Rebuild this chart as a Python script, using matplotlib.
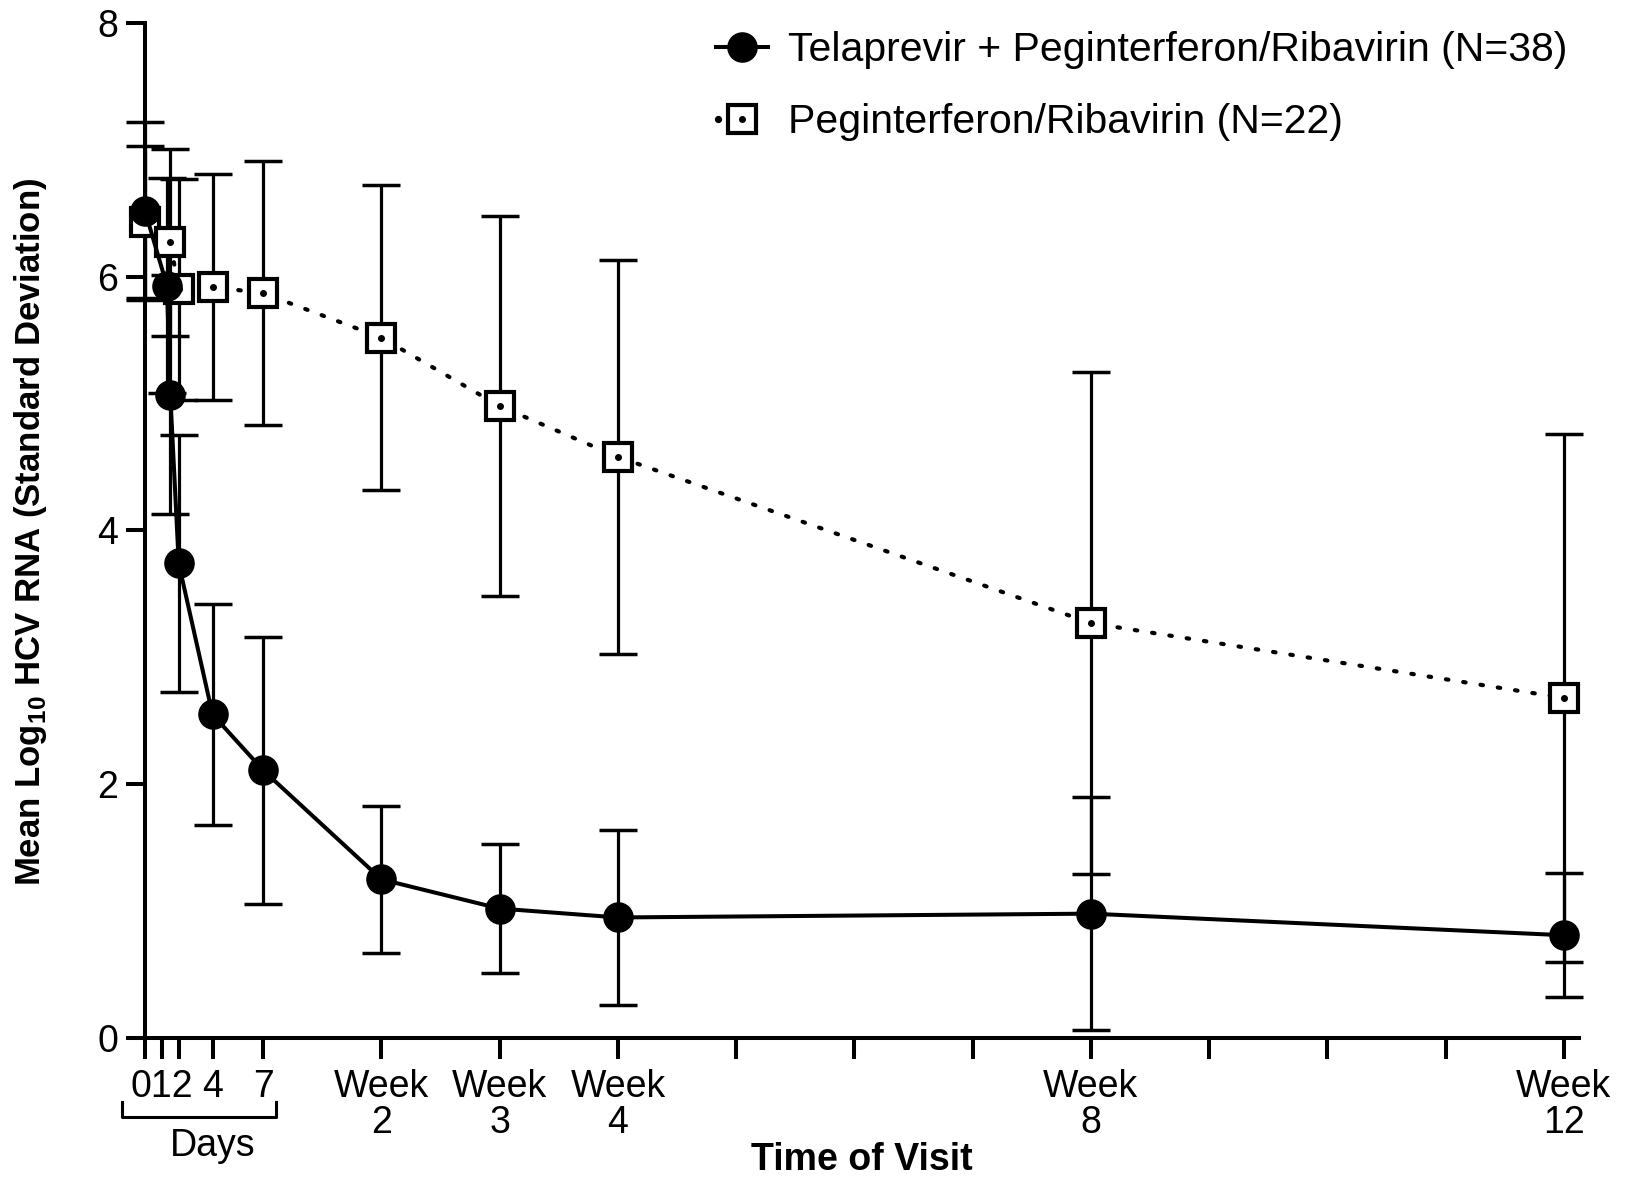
import numpy as np
import matplotlib
matplotlib.use('Agg')
import matplotlib.pyplot as plt
from matplotlib.lines import Line2D
from matplotlib.legend_handler import HandlerBase
import matplotlib.transforms as mtransforms

plt.rcParams['font.family'] = ['Liberation Sans', 'DejaVu Sans']
plt.rcParams['mathtext.fontset'] = 'custom'
plt.rcParams['mathtext.rm'] = 'Liberation Sans'
plt.rcParams['mathtext.bf'] = 'Liberation Sans:bold'

# visit day, mean log10 HCV RNA, standard deviation
tel_days = [0, 1.3, 1.5, 2, 4, 7, 14, 21, 28, 56, 84]
tel_mean = [6.52, 5.93, 5.07, 3.74, 2.55, 2.11, 1.25, 1.02, 0.95, 0.98, 0.81]
tel_sd = [0.70, 0.85, 0.94, 1.01, 0.87, 1.05, 0.58, 0.51, 0.69, 0.92, 0.49]

peg_days = [0, 1.5, 2, 4, 7, 14, 21, 28, 56, 84]
peg_mean = [6.43, 6.27, 5.90, 5.92, 5.87, 5.52, 4.98, 4.58, 3.27, 2.68]
peg_sd = [0.60, 0.74, 0.87, 0.89, 1.04, 1.20, 1.50, 1.55, 1.98, 2.08]

tick_days = [0, 1, 2, 4, 7, 14, 21, 28, 35, 42, 49, 56, 63, 70, 77, 84]
# days 0, 1 and 2 sit so close that their labels run together as "012"
tick_labels = ['', '012', '', '4', '7', 'Week\n2', 'Week\n3', 'Week\n4', '', '', '',
               'Week\n8', '', '', '', 'Week\n12']

tel_label = 'Telaprevir + Peginterferon/Ribavirin (N=38)'
peg_label = 'Peginterferon/Ribavirin (N=22)'

fs = 27
lw = 2.9
dots = (0, (0.6, 3.6))


class HandlerPeg(HandlerBase):
    # one dot of the dotted line, then the open square with its centre dot
    def create_artists(self, legend, orig_handle, xdescent, ydescent,
                       width, height, fontsize, trans):
        y = height / 2 - ydescent
        x0 = -xdescent
        xc = x0 + width / 2
        d = Line2D([x0 + 2], [y], ls='none', marker='o', ms=4.2, color='black',
                   transform=trans)
        sq = Line2D([xc], [y], ls='none', marker='s', ms=20, mfc='white',
                    mec='black', mew=3, transform=trans)
        cd = Line2D([xc], [y], ls='none', marker='o', ms=4, color='black',
                    transform=trans)
        return [d, sq, cd]


fig = plt.figure(figsize=(16.27, 11.77), dpi=100)
ax = fig.add_axes([0.0891, 0.1181, 0.9705 - 0.0891, 0.9805 - 0.1181])

# peginterferon arm: dotted line, open squares
ax.errorbar(peg_days, peg_mean, yerr=peg_sd, fmt='none', ecolor='black',
            elinewidth=2.3, capsize=14, capthick=2.5, clip_on=False, zorder=2)
ax.plot(peg_days, peg_mean, color='black', lw=3, linestyle=dots,
        dash_capstyle='round', clip_on=False, zorder=3)
ax.plot(peg_days, peg_mean, 's', ms=20, mfc='white', mec='black', mew=3,
        clip_on=False, zorder=4)
ax.plot(peg_days, peg_mean, 'o', ms=4, color='black', clip_on=False, zorder=5)

# telaprevir arm: solid line, filled circles
ax.errorbar(tel_days, tel_mean, yerr=tel_sd, fmt='none', ecolor='black',
            elinewidth=2.3, capsize=14, capthick=2.5, clip_on=False, zorder=2)
ax.plot(tel_days, tel_mean, '-o', color='black', lw=lw, ms=21,
        clip_on=False, zorder=6)

ax.set_xlim(0, 84.9)
ax.set_ylim(0, 8)
ax.set_yticks([0, 2, 4, 6, 8])
ax.set_xticks(tick_days)
ax.set_xticklabels(tick_labels, fontsize=fs, va='top')
for t in ax.get_xticklabels():
    t.set_linespacing(1.0)
ax.tick_params(axis='y', labelsize=fs, length=13.5, width=lw, pad=6)
ax.tick_params(axis='x', length=15, width=lw, pad=7)

for s in ['top', 'right']:
    ax.spines[s].set_visible(False)
for s in ['left', 'bottom']:
    ax.spines[s].set_linewidth(lw)

# "Days" bracket under the first week
trans = mtransforms.blended_transform_factory(ax.transData, ax.transAxes)
bx = [-1.34, -1.34, 7.76, 7.76]
by = [-0.063, -0.078, -0.078, -0.063]
ax.add_line(Line2D(bx, by, transform=trans, color='black', lw=2.2, clip_on=False))
ax.text(4.0, -0.106, 'Days', transform=trans, ha='center', va='center', fontsize=fs)

fig.text(0.530, 0.0144, 'Time of Visit', ha='center', va='center',
         fontsize=fs, fontweight='bold')
fig.text(0.019, 0.5484, r'Mean Log$_{\mathbf{10}}$ HCV RNA (Standard Deviation)',
         rotation=90, ha='center', va='center', fontsize=25, fontweight='bold')

# legend
h_tel = Line2D([], [], color='black', lw=lw, marker='o', ms=21)
h_peg = Line2D([], [], color='black')
leg = ax.legend([h_tel, h_peg], [tel_label, peg_label],
                handler_map={h_peg: HandlerPeg()},
                loc='upper right', bbox_to_anchor=(1.012, 1.02),
                frameon=False, fontsize=29.5, handlelength=1.27,
                handletextpad=0.5, labelspacing=0.82, borderpad=0.2)

fig.savefig('out.png', dpi=100)
